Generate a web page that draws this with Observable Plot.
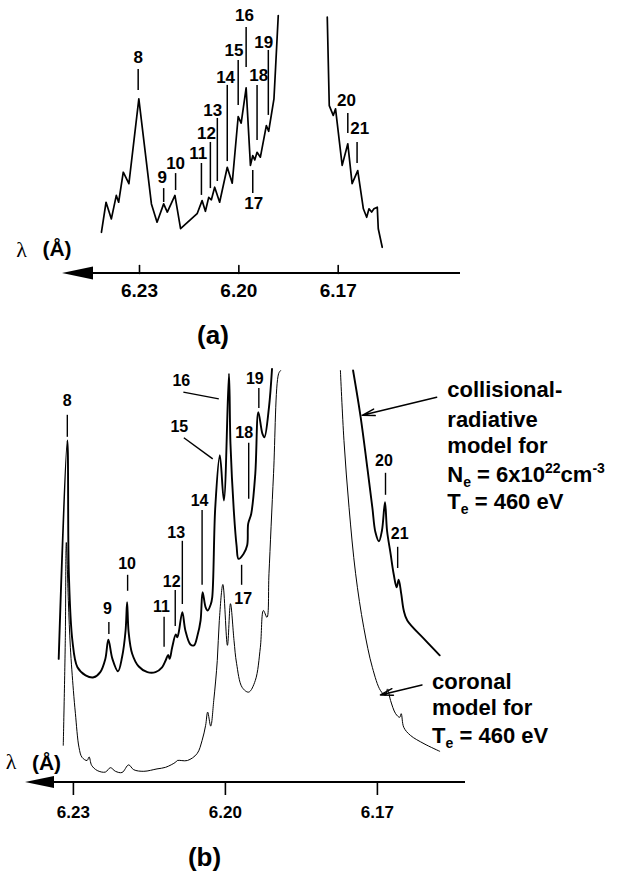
<!DOCTYPE html>
<html>
<head>
<meta charset="utf-8">
<script src="https://cdn.jsdelivr.net/npm/d3@7"></script>
<script src="https://cdn.jsdelivr.net/npm/@observablehq/plot@0.6"></script>
<style>
  html, body { margin: 0; padding: 0; background: #fff; }
  #chart { width: 631px; height: 875px; position: relative; background: #fff; }
  #chart svg { display: block; }
</style>
</head>
<body>
<div id="chart"></div>
<script>
// ---------- shared ----------
const tickValues = [6.23, 6.20, 6.17];
const tickLabels = ["6.23", "6.20", "6.17"];

// ---------- panel (a): measured spectrum ----------
const aWaveL = [6.2415, 6.2401, 6.2385, 6.2370, 6.2363, 6.2349, 6.2332, 6.2302, 6.2264, 6.2247, 6.2227, 6.2216, 6.2193, 6.2176, 6.2126, 6.2111, 6.2101, 6.2091, 6.2083, 6.2073, 6.2058, 6.2035, 6.2020, 6.2002, 6.1993, 6.1978, 6.1965, 6.1958, 6.1952, 6.1945, 6.1935, 6.1917, 6.1910, 6.1894, 6.1889, 6.1881];
const aIntL  = [1.51, 2.61, 2.00, 2.86, 2.61, 3.71, 3.29, 6.40, 2.55, 1.88, 2.55, 2.25, 2.86, 1.64, 2.19, 2.67, 2.28, 2.79, 2.70, 3.16, 2.61, 3.89, 3.31, 5.75, 5.51, 6.80, 3.96, 4.32, 4.16, 4.44, 4.26, 5.42, 5.21, 6.40, 7.56, 9.45];
const aWaveR = [6.1733, 6.1727, 6.1715, 6.1708, 6.1688, 6.1671, 6.1658, 6.1641, 6.1624, 6.1614, 6.1607, 6.1599, 6.1592, 6.1582, 6.1579, 6.1567];
const aIntR  = [9.39, 6.15, 5.79, 6.03, 3.96, 4.75, 3.29, 3.77, 2.37, 2.06, 2.37, 2.25, 2.37, 2.43, 1.64, 0.96];

const aLabel       = ["8", "9", "10", "11", "12", "13", "14", "15", "16", "17", "18", "19", "20", "21"];
const aLabelWave   = [6.2304, 6.2227, 6.2191, 6.2113, 6.2086, 6.2065, 6.2035, 6.2002, 6.1978, 6.1958, 6.1945, 6.1911, 6.1671, 6.1643];
const aLabelTop    = [7.47, 3.11, 3.66, 4.03, 4.80, 5.68, 6.89, 7.80, 9.01, 3.77, 6.89, 8.17, 5.86, 4.80];
const aLabelBottom = [6.70, 2.60, 3.04, 2.86, 3.11, 3.37, 4.10, 6.15, 7.55, 2.93, 4.87, 5.79, 5.13, 4.03];
const aTextWave    = [6.2304, 6.2231, 6.2191, 6.2123, 6.2098, 6.2079, 6.2040, 6.2015, 6.1983, 6.1955, 6.1940, 6.1925, 6.1675, 6.1635];
const aTextInt     = [7.92, 3.53, 4.02, 4.38, 5.12, 5.97, 7.19, 8.17, 9.45, 2.55, 7.25, 8.47, 6.34, 5.30];

// ---------- panel (b): models ----------
const bCRWaveL = [6.2329, 6.2312, 6.2309, 6.2302, 6.2292, 6.2276, 6.2260, 6.2247, 6.2237, 6.2231, 6.2223, 6.2212, 6.2204, 6.2197, 6.2194, 6.2191, 6.2184, 6.2171, 6.2154, 6.2138, 6.2125, 6.2118, 6.2113, 6.2110, 6.2105, 6.2098, 6.2095, 6.2092, 6.2085, 6.2079, 6.2069, 6.2062, 6.2055, 6.2049, 6.2045, 6.2039, 6.2035, 6.2029, 6.2026, 6.2020, 6.2011, 6.2003, 6.1993, 6.1990, 6.1983, 6.1978, 6.1974, 6.1964, 6.1957, 6.1955, 6.1949, 6.1941, 6.1935, 6.1927, 6.1923, 6.1914, 6.1908];
const bCRIntL  = [3.09, 8.55, 5.23, 3.55, 2.88, 2.68, 2.63, 2.76, 3.09, 3.57, 3.09, 2.78, 3.13, 3.80, 4.51, 3.76, 3.22, 2.90, 2.76, 2.76, 2.88, 3.05, 3.19, 3.09, 3.38, 3.70, 3.63, 3.76, 4.26, 3.80, 3.45, 3.43, 3.68, 4.05, 4.76, 4.38, 4.30, 4.45, 4.63, 6.88, 8.18, 7.05, 10.22, 8.47, 6.72, 5.93, 5.59, 5.72, 5.93, 6.47, 6.72, 7.72, 9.26, 8.72, 8.63, 9.38, 10.34];
const bCRWaveR = [6.1748, 6.1733, 6.1720, 6.1710, 6.1704, 6.1697, 6.1691, 6.1685, 6.1681, 6.1674, 6.1668, 6.1662, 6.1658, 6.1653, 6.1648, 6.1641, 6.1608, 6.1577];
const bCRIntR  = [10.30, 9.13, 7.88, 6.88, 6.26, 6.03, 6.30, 7.01, 6.30, 5.72, 5.22, 4.88, 5.07, 4.72, 4.30, 4.05, 3.59, 3.18];

const bCorWaveL = [6.2320, 6.2316, 6.2314, 6.2310, 6.2306, 6.2300, 6.2296, 6.2289, 6.2283, 6.2273, 6.2269, 6.2264, 6.2253, 6.2237, 6.2227, 6.2217, 6.2204, 6.2191, 6.2181, 6.2161, 6.2135, 6.2118, 6.2098, 6.2095, 6.2075, 6.2056, 6.2046, 6.2039, 6.2035, 6.2029, 6.2023, 6.2016, 6.2012, 6.2005, 6.1996, 6.1990, 6.1983, 6.1978, 6.1967, 6.1954, 6.1941, 6.1931, 6.1925, 6.1918, 6.1914, 6.1905, 6.1895, 6.1891];
const bCorIntL  = [0.93, 3.55, 6.00, 4.55, 3.38, 2.30, 1.72, 0.88, 0.63, 0.55, 0.64, 0.43, 0.30, 0.26, 0.37, 0.28, 0.25, 0.44, 0.32, 0.28, 0.34, 0.38, 0.51, 0.55, 0.55, 0.72, 1.05, 1.43, 1.76, 1.41, 2.05, 3.05, 4.05, 4.95, 3.43, 4.47, 3.55, 2.98, 2.38, 2.26, 2.55, 3.38, 4.30, 4.13, 5.22, 7.72, 10.22, 10.30];
const bCorWaveR = [6.1773, 6.1766, 6.1756, 6.1743, 6.1727, 6.1710, 6.1694, 6.1684, 6.1680, 6.1674, 6.1664, 6.1656, 6.1653, 6.1648, 6.1635, 6.1608, 6.1577];
const bCorIntR  = [10.30, 8.55, 6.88, 5.22, 3.88, 2.88, 2.30, 2.18, 2.34, 2.05, 1.72, 1.63, 1.72, 1.38, 1.18, 0.97, 0.78];

const bLabel       = ["8", "9", "10", "11", "12", "13", "14", "17", "18", "19", "20", "21"];
const bLabelWave   = [6.2312, 6.2230, 6.2193, 6.2121, 6.2099, 6.2085, 6.2046, 6.1968, 6.1954, 6.1934, 6.1684, 6.1660];
const bLabelTop    = [9.18, 4.00, 5.18, 4.13, 4.80, 6.03, 6.80, 5.43, 8.48, 9.85, 7.73, 5.88];
const bLabelBottom = [8.63, 3.70, 4.78, 3.38, 3.90, 4.45, 4.93, 4.93, 7.08, 9.35, 7.18, 5.35];
const bTextWave    = [6.2312, 6.2233, 6.2194, 6.2126, 6.2106, 6.2097, 6.2051, 6.1965, 6.1963, 6.1942, 6.1687, 6.1656];
const bTextInt     = [9.55, 4.34, 5.46, 4.40, 5.01, 6.25, 7.05, 4.58, 8.73, 10.08, 8.04, 6.22];

const bLeaderLabel    = ["15", "16"];
const bLeaderTextWave = [6.2091, 6.2087];
const bLeaderTextInt  = [8.90, 10.05];
const bLeaderWave1    = [6.2082, 6.2083];
const bLeaderInt1     = [8.62, 9.76];
const bLeaderWave2    = [6.2025, 6.2013];
const bLeaderInt2     = [8.09, 9.59];

const annLines = ["collisional-", "radiative", "model for", "Nₑ = 6x10²²cm⁻³", "Tₑ = 460 eV", "coronal", "model for", "Tₑ = 460 eV"];
const annWave  = [6.1562, 6.1562, 6.1562, 6.1562, 6.1562, 6.1592, 6.1592, 6.1592];
const annInt   = [9.63, 8.88, 8.23, 7.51, 6.85, 2.35, 1.68, 1.00];
const annArrowWave1 = [6.1583, 6.1612];
const annArrowInt1  = [9.63, 2.44];
const annArrowWave2 = [6.1730, 6.1694];
const annArrowInt2  = [9.18, 2.19];

// ---------- helpers ----------
const FONT = "'Liberation Sans', Arial, Helvetica, sans-serif";
const SERIF = "'Liberation Serif', 'DejaVu Serif', serif";
const style = {fontFamily: FONT, fontWeight: "bold", background: "white", color: "black", overflow: "visible"};

function axisWithArrow(headLen, headHalf, lineWidth) {
  return (index, scales, values, dims) => {
    const y = scales.y(0);
    const x0 = dims.marginLeft, x1 = dims.width - dims.marginRight;
    const g = d3.create("svg:g");
    g.append("line").attr("x1", x0).attr("x2", x1).attr("y1", y).attr("y2", y)
      .attr("stroke", "black").attr("stroke-width", lineWidth);
    g.append("path").attr("d", `M${x0 - headLen},${y}L${x0 + 1},${y - headHalf}L${x0 + 1},${y + headHalf}Z`)
      .attr("fill", "black");
    return g.node();
  };
}

const upTick = {draw(context, l) { context.moveTo(0, 0); context.lineTo(0, -l); }};

function richify(svg) {
  const map = {"ₑ": ["sub", "e"], "²": ["sup", "2"], "⁻": ["sup", "-"], "³": ["sup", "3"]};
  svg.querySelectorAll("text, tspan").forEach(el => {
    if (el.childElementCount) return;
    const s = el.textContent;
    if (![...s].some(c => map[c])) return;
    const segs = [];
    for (const c of s) {
      const mode = map[c] ? map[c][0] : "normal";
      const ch = map[c] ? map[c][1] : c;
      if (segs.length && segs[segs.length - 1].mode === mode) segs[segs.length - 1].text += ch;
      else segs.push({mode, text: ch});
    }
    el.textContent = "";
    let offset = 0;
    for (const seg of segs) {
      const t = document.createElementNS("http://www.w3.org/2000/svg", "tspan");
      const target = seg.mode === "sub" ? 5 : seg.mode === "sup" ? -9 : 0;
      t.setAttribute("dy", target - offset);
      offset = target;
      if (seg.mode !== "normal") t.setAttribute("font-size", "14");
      t.textContent = seg.text;
      el.appendChild(t);
    }
  });
}

const center = {textAnchor: "middle", lineAnchor: "middle"};

// ---------- panel (a) ----------
const plotA = Plot.plot({
  width: 631, height: 350,
  marginLeft: 92, marginRight: 171, marginTop: 0, marginBottom: 77,
  style,
  x: {domain: [6.23, 6.17], range: [139, 337.7]},
  y: {domain: [0, 10], range: [273, 0], axis: null},
  marks: [
    axisWithArrow(30, 6.5, 2),
    Plot.vector(tickValues, {x: d => d, y: 0, length: 8, anchor: "start", shape: upTick, stroke: "black", strokeWidth: 1.6}),
    Plot.axisX(tickValues, {tickSize: 0, tickPadding: 10, tickFormat: (d, i) => tickLabels[i], fontSize: 19, fontWeight: "bold", label: null}),
    Plot.line(aWaveL, {x: aWaveL, y: aIntL, stroke: "black", strokeWidth: 1.7, curve: "linear"}),
    Plot.line(aWaveR, {x: aWaveR, y: aIntR, stroke: "black", strokeWidth: 1.7, curve: "linear"}),
    Plot.ruleX(aLabel, {x: aLabelWave, y1: aLabelBottom, y2: aLabelTop, stroke: "black", strokeWidth: 1.5}),
    Plot.text(aLabel, {x: aTextWave, y: aTextInt, text: d => d, fontSize: 17, fontWeight: "bold", fill: "black"}),
    Plot.text(["λ"], {frameAnchor: "bottom-left", ...center, dx: -71, dy: -24, text: d => d, fontFamily: SERIF, fontWeight: "normal", fontSize: 22, fill: "black"}),
    Plot.text(["(Å)"], {frameAnchor: "bottom-left", ...center, dx: -35.5, dy: -24, text: d => d, fontSize: 21, fontWeight: "bold", fill: "black"}),
    Plot.text(["(a)"], {frameAnchor: "bottom", ...center, dx: -63.5, dy: 62, text: d => d, fontSize: 26, fontWeight: "bold", fill: "black"})
  ]
});

// ---------- panel (b) ----------
const plotB = Plot.plot({
  width: 631, height: 525,
  marginLeft: 53, marginRight: 166, marginTop: 0, marginBottom: 93,
  style,
  x: {domain: [6.23, 6.17], range: [72.9, 376.9]},
  y: {domain: [0, 10], range: [432, 32], axis: null},
  marks: [
    axisWithArrow(28, 6, 2),
    Plot.axisX(tickValues, {tickSize: 13, tickPadding: 10, strokeWidth: 1.6, tickFormat: (d, i) => tickLabels[i], fontSize: 17, fontWeight: "bold", label: null}),
    Plot.line(bCorWaveL, {x: bCorWaveL, y: bCorIntL, stroke: "black", strokeWidth: 1, curve: "catmull-rom"}),
    Plot.line(bCorWaveR, {x: bCorWaveR, y: bCorIntR, stroke: "black", strokeWidth: 1, curve: "catmull-rom"}),
    Plot.line(bCRWaveL, {x: bCRWaveL, y: bCRIntL, stroke: "black", strokeWidth: 1.9, curve: "catmull-rom"}),
    Plot.line(bCRWaveR, {x: bCRWaveR, y: bCRIntR, stroke: "black", strokeWidth: 1.9, curve: "catmull-rom"}),
    Plot.ruleX(bLabel, {x: bLabelWave, y1: bLabelBottom, y2: bLabelTop, stroke: "black", strokeWidth: 1.4}),
    Plot.text(bLabel, {x: bTextWave, y: bTextInt, text: d => d, fontSize: 16, fontWeight: "bold", fill: "black"}),
    Plot.link(bLeaderLabel, {x1: bLeaderWave1, y1: bLeaderInt1, x2: bLeaderWave2, y2: bLeaderInt2, stroke: "black", strokeWidth: 1.4}),
    Plot.text(bLeaderLabel, {x: bLeaderTextWave, y: bLeaderTextInt, text: d => d, fontSize: 16, fontWeight: "bold", fill: "black"}),
    Plot.arrow(annArrowWave1, {x1: annArrowWave1, y1: annArrowInt1, x2: annArrowWave2, y2: annArrowInt2, stroke: "black", strokeWidth: 1.5, headLength: 13, headAngle: 30}),
    Plot.text(annLines, {x: annWave, y: annInt, text: d => d, textAnchor: "start", lineAnchor: "bottom", fontSize: 22, fontWeight: "bold", fill: "black"}),
    Plot.text(["λ"], {frameAnchor: "bottom-left", ...center, dx: -42.5, dy: -20.5, text: d => d, fontFamily: SERIF, fontWeight: "normal", fontSize: 22, fill: "black"}),
    Plot.text(["(Å)"], {frameAnchor: "bottom-left", ...center, dx: -7, dy: -19, text: d => d, fontSize: 21, fontWeight: "bold", fill: "black"}),
    Plot.text(["(b)"], {frameAnchor: "bottom", ...center, dx: -55, dy: 75.5, text: d => d, fontSize: 26, fontWeight: "bold", fill: "black"})
  ]
});
richify(plotB);

const chart = document.getElementById("chart");
chart.appendChild(plotA);
chart.appendChild(plotB);
</script>
</body>
</html>
